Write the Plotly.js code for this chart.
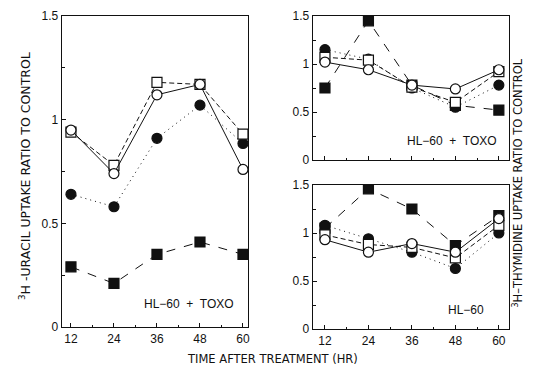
<!DOCTYPE html>
<html><head><meta charset="utf-8">
<script src="https://cdn.plot.ly/plotly-3.0.1.min.js"></script>
<style>html,body{margin:0;padding:0;background:#fff}</style>
</head><body><div id="chart" style="width:539px;height:379px"></div>
<script>
const hours = [12, 24, 36, 48, 60];
const xTickLabels = ['12', '24', '36', '48', '60'];
const yTickVals = [0, 0.5, 1, 1.5];
const yTickLabels = ['0', '0.5', '1', '1.5'];

// Left panel: 3H-uracil uptake, HL-60 + TOXO
const uracilOpenCircle   = [0.95, 0.74, 1.12, 1.17, 0.76];
const uracilOpenSquare   = [0.94, 0.78, 1.18, 1.17, 0.93];
const uracilFilledCircle = [0.64, 0.58, 0.91, 1.07, 0.885];
const uracilFilledSquare = [0.29, 0.21, 0.35, 0.41, 0.35];

// Top right: 3H-thymidine uptake, HL-60 + TOXO
const thyToxoOpenCircle   = [1.02, 0.94, 0.78, 0.74, 0.94];
const thyToxoOpenSquare   = [1.07, 1.04, 0.76, 0.60, 0.92];
const thyToxoFilledCircle = [1.15, 1.05, 0.75, 0.55, 0.78];
const thyToxoFilledSquare = [0.75, 1.45, 0.78, 0.57, 0.52];

// Bottom right: 3H-thymidine uptake, HL-60
const thyOpenCircle   = [0.93, 0.80, 0.89, 0.80, 1.15];
const thyOpenSquare   = [0.98, 0.88, 0.85, 0.74, 1.08];
const thyFilledCircle = [1.08, 0.94, 0.80, 0.63, 1.00];
const thyFilledSquare = [1.05, 1.46, 1.25, 0.87, 1.18];

const styles = {
  openCircle:   {symbol: 'circle', fill: '#fff', dash: 'solid'},
  openSquare:   {symbol: 'square', fill: '#fff', dash: '5px,3px'},
  filledCircle: {symbol: 'circle', fill: '#111', dash: '1px,4px'},
  filledSquare: {symbol: 'square', fill: '#111', dash: '9px,9px'}
};

function tr(y, kind, xa, ya) {
  const s = styles[kind];
  return {
    x: hours, y: y, xaxis: xa, yaxis: ya, type: 'scatter', mode: 'lines+markers',
    line: {color: '#111', width: 1, dash: s.dash},
    marker: {symbol: s.symbol, size: 10, color: s.fill,
             line: {color: '#111', width: 1.2}},
    showlegend: false, hoverinfo: 'skip'
  };
}

const data = [
  tr(uracilFilledSquare, 'filledSquare', 'x', 'y'),
  tr(uracilFilledCircle, 'filledCircle', 'x', 'y'),
  tr(uracilOpenSquare, 'openSquare', 'x', 'y'),
  tr(uracilOpenCircle, 'openCircle', 'x', 'y'),
  tr(thyToxoFilledSquare, 'filledSquare', 'x2', 'y2'),
  tr(thyToxoFilledCircle, 'filledCircle', 'x2', 'y2'),
  tr(thyToxoOpenSquare, 'openSquare', 'x2', 'y2'),
  tr(thyToxoOpenCircle, 'openCircle', 'x2', 'y2'),
  tr(thyFilledSquare, 'filledSquare', 'x3', 'y3'),
  tr(thyFilledCircle, 'filledCircle', 'x3', 'y3'),
  tr(thyOpenSquare, 'openSquare', 'x3', 'y3'),
  tr(thyOpenCircle, 'openCircle', 'x3', 'y3')
];

const W = 539, H = 379;
const font = {family: 'Liberation Sans, Arial, sans-serif', size: 12, color: '#111'};
const titleFont = {family: 'DejaVu Sans, sans-serif', size: 11.5, color: '#111'};
function xax(dom, range, labels, anchor) {
  return {domain: [dom[0]/W, dom[1]/W], range: range, anchor: anchor,
    tickvals: hours, ticktext: xTickLabels, showticklabels: labels,
    ticks: 'inside', ticklen: 4, tickcolor: '#111', showline: true, mirror: true,
    linecolor: '#111', linewidth: 1.3, showgrid: false, zeroline: false,
    minor: {ticks: 'inside', ticklen: 2, tickvals: [6, 18, 30, 42, 54], tickcolor: '#111'},
    tickfont: font, fixedrange: true};
}
function yax(dom, anchor) {
  return {domain: [1 - dom[1]/H, 1 - dom[0]/H], range: [0, 1.5], anchor: anchor,
    tickvals: yTickVals, ticktext: yTickLabels,
    ticks: 'inside', ticklen: 4, tickcolor: '#111', showline: true, mirror: true,
    linecolor: '#111', linewidth: 1.3, showgrid: false, zeroline: false,
    minor: {ticks: 'inside', ticklen: 3, dtick: 0.25, tickcolor: '#111'},
    tickfont: font, fixedrange: true};
}

const layout = {
  width: W, height: H, margin: {l: 0, r: 0, t: 0, b: 0},
  paper_bgcolor: '#fff', plot_bgcolor: '#fff', font: font,
  xaxis: xax([62, 248], [9.5, 61.4], true, 'y'),
  yaxis: yax([16, 327], 'x'),
  xaxis2: xax([313, 509], [8.7, 62.8], false, 'y2'),
  yaxis2: yax([16, 160], 'x2'),
  xaxis3: xax([313, 509], [8.7, 62.8], true, 'y3'),
  yaxis3: yax([185, 329], 'x3'),
  annotations: [
    {xref: 'x', yref: 'y', x: 45, y: 0.11, text: 'HL\u221260  +  TOXO', showarrow: false, font: font},
    {xref: 'x2', yref: 'y2', x: 47, y: 0.2, text: 'HL\u221260  +  TOXO', showarrow: false, font: font},
    {xref: 'x3', yref: 'y3', x: 51, y: 0.2, text: 'HL\u221260', showarrow: false, font: font},
    {xref: 'paper', yref: 'paper', x: 272/W, y: 1 - 368/H, text: 'TIME AFTER TREATMENT (HR)', showarrow: false, font: titleFont},
    {xref: 'paper', yref: 'paper', x: 15/W, y: 1 - 176/H, textangle: -90, text: '<sup>3</sup>H -URACIL UPTAKE RATIO TO CONTROL', showarrow: false, font: {family: titleFont.family, size: 12.5, color: '#111'}},
    {xref: 'paper', yref: 'paper', x: 527/W, y: 1 - 183/H, textangle: -90, text: '<sup>3</sup>H\u2013THYMIDINE UPTAKE RATIO TO CONTROL', showarrow: false, font: titleFont}
  ]
};

Plotly.newPlot('chart', data, layout, {staticPlot: true, displayModeBar: false});
</script></body></html>
